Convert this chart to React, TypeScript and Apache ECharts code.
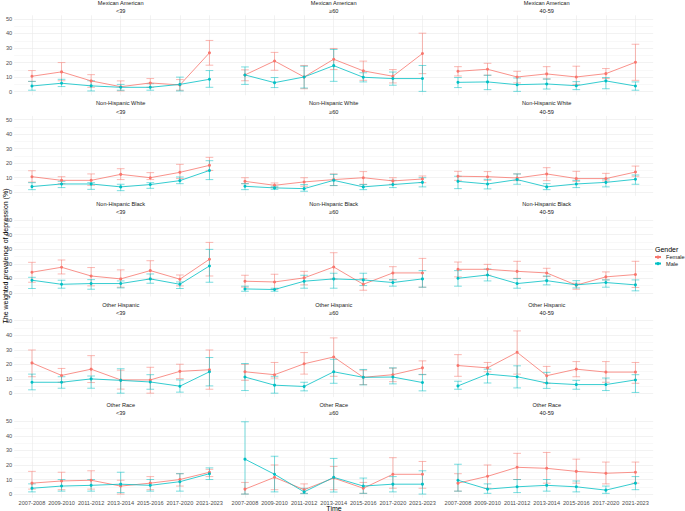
import React, { useEffect, useRef } from "react";
import * as echarts from "echarts";

// ---------- categories ----------
const periods = ["2007-2008", "2009-2010", "2011-2012", "2013-2014", "2015-2016", "2017-2020", "2021-2023"];
const races = ["Mexican American", "Non-Hispanic White", "Non-Hispanic Black", "Other Hispanic", "Other Race"];
const ageGroups = ["<39", "≥60", "40-59"];
const genders = ["Female", "Male"];
const yTickLabels = [0, 10, 20, 30, 40, 50];

// ---------- Mexican American ----------
const MA_u39_F = [10.6, 13.6, 7.4, 3.4, 6.0, 4.6, 26.7];
const MA_u39_F_lo = [7.0, 7.5, 3.0, 0.5, 3.0, 1.0, 18.2];
const MA_u39_F_hi = [14.5, 20.0, 11.7, 7.4, 9.0, 8.3, 35.2];
const MA_u39_M = [3.9, 5.8, 4.0, 3.0, 3.0, 5.0, 8.5];
const MA_u39_M_lo = [1.0, 3.5, 0.5, 1.0, 1.0, 0.5, 3.0];
const MA_u39_M_hi = [7.1, 8.5, 7.5, 5.0, 5.5, 10.0, 14.5];

const MA_o60_F = [11.5, 21.1, 10.1, 22.3, 14.3, 10.6, 26.2];
const MA_o60_F_lo = [7.5, 14.7, 2.0, 15.2, 7.8, 6.0, 12.4];
const MA_o60_F_hi = [15.0, 27.0, 18.0, 29.7, 21.0, 15.2, 40.2];
const MA_o60_M = [11.5, 6.2, 10.1, 17.9, 9.9, 9.0, 9.0];
const MA_o60_M_lo = [5.0, 2.8, 2.5, 7.1, 6.7, 4.4, 0.2];
const MA_o60_M_hi = [17.0, 9.7, 17.5, 29.0, 13.0, 13.5, 18.0];

const MA_m40_F = [14.0, 15.4, 10.1, 12.2, 10.1, 12.4, 20.2];
const MA_m40_F_lo = [10.8, 11.3, 6.0, 8.7, 5.0, 9.0, 7.8];
const MA_m40_F_hi = [17.2, 19.5, 14.0, 17.2, 17.5, 15.9, 32.6];
const MA_m40_M = [6.4, 6.7, 4.8, 5.3, 4.1, 7.4, 3.9];
const MA_m40_M_lo = [2.8, 1.4, 0.2, 1.8, 1.4, 2.0, 1.0];
const MA_m40_M_hi = [9.7, 11.3, 9.4, 8.7, 6.9, 9.7, 6.7];

// ---------- Non-Hispanic White ----------
const NHW_u39_F = [10.7, 8.2, 8.2, 12.3, 10.0, 13.7, 18.5];
const NHW_u39_F_lo = [7.0, 5.9, 4.8, 8.7, 8.7, 9.4, 15.0];
const NHW_u39_F_hi = [14.8, 10.7, 12.6, 16.2, 13.5, 19.2, 24.0];
const NHW_u39_M = [3.9, 5.7, 5.7, 3.7, 5.3, 8.0, 15.0];
const NHW_u39_M_lo = [1.8, 3.2, 2.0, 1.1, 2.7, 5.9, 8.7];
const NHW_u39_M_hi = [6.6, 7.5, 6.6, 5.5, 6.6, 10.5, 21.7];

const NHW_o60_F = [7.5, 4.8, 7.1, 8.7, 10.0, 7.8, 9.1];
const NHW_o60_F_lo = [5.9, 3.2, 4.1, 4.6, 5.5, 5.5, 6.6];
const NHW_o60_F_hi = [10.0, 6.4, 10.0, 12.6, 14.2, 10.0, 11.2];
const NHW_o60_M = [4.1, 3.0, 2.5, 8.2, 3.7, 5.3, 6.8];
const NHW_o60_M_lo = [1.8, 2.0, 0.7, 4.6, 1.8, 3.2, 3.7];
const NHW_o60_M_hi = [5.9, 4.1, 5.3, 12.3, 5.3, 8.2, 10.0];

const NHW_m40_F = [11.0, 10.7, 9.8, 12.6, 9.4, 9.4, 13.9];
const NHW_m40_F_lo = [8.2, 8.2, 8.0, 8.0, 7.5, 7.8, 11.0];
const NHW_m40_F_hi = [14.4, 14.2, 12.6, 16.9, 14.4, 13.0, 18.0];
const NHW_m40_M = [7.5, 5.7, 8.7, 3.7, 5.7, 6.8, 8.9];
const NHW_m40_M_lo = [2.5, 2.3, 5.5, 1.8, 3.2, 3.7, 5.5];
const NHW_m40_M_hi = [11.0, 8.9, 12.6, 5.9, 8.2, 9.1, 11.9];

// ---------- Non-Hispanic Black ----------
const NHB_u39_F = [14.2, 17.6, 11.6, 9.6, 15.3, 9.4, 23.1];
const NHB_u39_F_lo = [7.3, 13.0, 4.8, 3.9, 9.4, 4.8, 11.6];
const NHB_u39_F_hi = [21.0, 22.6, 17.4, 15.8, 22.1, 12.3, 34.7];
const NHB_u39_M = [8.7, 5.9, 6.4, 6.4, 9.6, 5.9, 18.5];
const NHB_u39_M_lo = [3.0, 3.2, 2.5, 3.4, 6.6, 3.0, 7.3];
const NHB_u39_M_hi = [10.7, 8.7, 9.1, 8.2, 13.0, 7.5, 29.9];

const NHB_o60_F = [8.0, 7.5, 10.3, 17.8, 5.9, 13.7, 13.7];
const NHB_o60_F_lo = [3.9, 2.5, 5.5, 9.4, 1.8, 8.9, 3.9];
const NHB_o60_F_hi = [12.1, 12.8, 14.8, 27.6, 9.8, 18.0, 23.7];
const NHB_o60_M = [2.7, 2.3, 8.0, 9.6, 8.9, 7.1, 9.6];
const NHB_o60_M_lo = [1.1, 1.1, 3.2, 3.2, 5.0, 4.6, 3.9];
const NHB_o60_M_hi = [4.6, 3.2, 12.1, 13.5, 13.5, 9.1, 15.3];

const NHB_m40_F = [16.2, 16.2, 14.8, 13.7, 5.3, 11.0, 12.6];
const NHB_m40_F_lo = [11.0, 12.1, 10.0, 11.2, 2.5, 8.9, 3.7];
const NHB_m40_F_hi = [21.2, 19.6, 21.7, 16.9, 6.6, 14.4, 21.7];
const NHB_m40_M = [10.0, 12.3, 6.4, 8.4, 5.5, 7.1, 5.5];
const NHB_m40_M_lo = [4.6, 8.2, 3.2, 5.5, 3.4, 3.9, 1.4];
const NHB_m40_M_hi = [15.3, 16.4, 9.8, 11.6, 8.4, 8.9, 8.9];

// ---------- Other Hispanic ----------
const OH_u39_F = [21.0, 12.4, 16.7, 9.3, 9.3, 15.2, 16.3];
const OH_u39_F_lo = [11.5, 7.7, 7.5, 3.0, 0.2, 10.2, 2.9];
const OH_u39_F_hi = [29.9, 17.2, 26.0, 16.0, 18.0, 20.1, 29.9];
const OH_u39_M = [7.7, 7.7, 10.0, 9.0, 7.9, 5.0, 14.9];
const OH_u39_M_lo = [2.5, 3.6, 3.6, 0.2, 2.9, 0.9, 5.2];
const OH_u39_M_hi = [13.3, 11.5, 12.0, 17.0, 12.9, 9.3, 24.7];

const OH_o60_F = [14.9, 12.9, 20.4, 25.1, 11.1, 12.9, 17.6];
const OH_o60_F_lo = [9.0, 10.6, 13.3, 11.8, 6.1, 8.1, 12.9];
const OH_o60_F_hi = [20.0, 21.3, 28.1, 38.2, 16.0, 17.4, 22.4];
const OH_o60_M = [11.3, 5.7, 4.8, 14.9, 11.1, 11.3, 7.5];
const OH_o60_M_lo = [2.0, 0.2, 1.8, 7.0, 5.9, 6.6, 1.8];
const OH_o60_M_hi = [20.6, 11.8, 7.7, 23.5, 16.5, 17.6, 13.1];

const OH_m40_F = [19.2, 17.6, 28.3, 12.2, 16.7, 14.7, 14.7];
const OH_m40_F_lo = [11.8, 14.9, 13.3, 7.0, 11.5, 7.7, 7.0];
const OH_m40_F_hi = [26.7, 21.3, 43.0, 18.6, 21.9, 21.9, 21.3];
const OH_m40_M = [5.2, 13.3, 11.5, 7.2, 6.1, 6.1, 9.3];
const OH_m40_M_lo = [2.9, 7.2, 3.8, 3.5, 2.9, 2.0, 0.7];
const OH_m40_M_hi = [8.4, 16.7, 19.0, 14.5, 9.0, 10.6, 12.9];

// ---------- Other Race ----------
const OR_u39_F = [7.5, 9.0, 9.5, 5.5, 7.5, 10.0, 15.0];
const OR_u39_F_lo = [3.4, 3.0, 3.4, 0.0, 3.0, 5.5, 12.0];
const OR_u39_F_hi = [15.6, 15.0, 16.0, 9.5, 12.0, 14.0, 17.0];
const OR_u39_M = [4.0, 5.5, 6.0, 6.8, 6.0, 8.5, 14.0];
const OR_u39_M_lo = [1.5, 2.0, 2.0, 1.0, 2.0, 2.0, 10.0];
const OR_u39_M_hi = [7.0, 10.0, 10.0, 15.0, 10.0, 14.0, 18.0];

const OR_o60_F = [3.4, 11.5, 3.0, 11.0, 4.0, 13.6, 13.6];
const OR_o60_F_lo = [0.0, 3.0, 0.5, 3.0, 0.5, 4.0, 4.0];
const OR_o60_F_hi = [8.0, 20.0, 7.0, 19.0, 8.0, 25.0, 22.4];
const OR_o60_M = [24.0, 13.6, 1.5, 11.5, 5.5, 6.8, 6.8];
const OR_o60_M_lo = [0.0, 1.5, 0.3, 1.4, 0.5, 1.5, 0.0];
const OR_o60_M_hi = [49.7, 26.0, 4.0, 24.5, 11.0, 12.0, 16.0];

const OR_m40_F = [7.5, 12.2, 18.4, 17.7, 15.6, 14.3, 15.0];
const OR_m40_F_lo = [2.0, 4.0, 10.0, 7.5, 7.5, 7.0, 7.5];
const OR_m40_F_hi = [14.0, 20.0, 28.0, 28.6, 24.0, 22.0, 22.0];
const OR_m40_M = [9.5, 3.4, 5.0, 6.0, 5.0, 2.7, 7.5];
const OR_m40_M_lo = [2.0, 0.5, 1.0, 2.0, 1.5, 0.5, 3.0];
const OR_m40_M_hi = [20.5, 7.0, 10.0, 10.0, 9.0, 5.5, 12.0];

// rows = races, cols = age groups; each: [F, F_lo, F_hi, M, M_lo, M_hi]
const panelData = [
  [
    [MA_u39_F, MA_u39_F_lo, MA_u39_F_hi, MA_u39_M, MA_u39_M_lo, MA_u39_M_hi],
    [MA_o60_F, MA_o60_F_lo, MA_o60_F_hi, MA_o60_M, MA_o60_M_lo, MA_o60_M_hi],
    [MA_m40_F, MA_m40_F_lo, MA_m40_F_hi, MA_m40_M, MA_m40_M_lo, MA_m40_M_hi],
  ],
  [
    [NHW_u39_F, NHW_u39_F_lo, NHW_u39_F_hi, NHW_u39_M, NHW_u39_M_lo, NHW_u39_M_hi],
    [NHW_o60_F, NHW_o60_F_lo, NHW_o60_F_hi, NHW_o60_M, NHW_o60_M_lo, NHW_o60_M_hi],
    [NHW_m40_F, NHW_m40_F_lo, NHW_m40_F_hi, NHW_m40_M, NHW_m40_M_lo, NHW_m40_M_hi],
  ],
  [
    [NHB_u39_F, NHB_u39_F_lo, NHB_u39_F_hi, NHB_u39_M, NHB_u39_M_lo, NHB_u39_M_hi],
    [NHB_o60_F, NHB_o60_F_lo, NHB_o60_F_hi, NHB_o60_M, NHB_o60_M_lo, NHB_o60_M_hi],
    [NHB_m40_F, NHB_m40_F_lo, NHB_m40_F_hi, NHB_m40_M, NHB_m40_M_lo, NHB_m40_M_hi],
  ],
  [
    [OH_u39_F, OH_u39_F_lo, OH_u39_F_hi, OH_u39_M, OH_u39_M_lo, OH_u39_M_hi],
    [OH_o60_F, OH_o60_F_lo, OH_o60_F_hi, OH_o60_M, OH_o60_M_lo, OH_o60_M_hi],
    [OH_m40_F, OH_m40_F_lo, OH_m40_F_hi, OH_m40_M, OH_m40_M_lo, OH_m40_M_hi],
  ],
  [
    [OR_u39_F, OR_u39_F_lo, OR_u39_F_hi, OR_u39_M, OR_u39_M_lo, OR_u39_M_hi],
    [OR_o60_F, OR_o60_F_lo, OR_o60_F_hi, OR_o60_M, OR_o60_M_lo, OR_o60_M_hi],
    [OR_m40_F, OR_m40_F_lo, OR_m40_F_hi, OR_m40_M, OR_m40_M_lo, OR_m40_M_hi],
  ],
];

// ---------- styling / layout ----------
const COLORS = ["#F8766D", "#00BFC4"];
const FONT = "Liberation Sans, Arial, Helvetica, sans-serif";
const COL_LEFT = [14.2, 227.2, 440.2];
const PANEL_W = 213;
const ROW_TOP0 = 15.3;
const ROW_PITCH = 100.6;
const PANEL_H = 80;
const T = "rgba(0,0,0,0)";
const GRID_MAJOR = "#E9E9E9";
const GRID_MINOR = "#F3F3F3";
const CAP_HALF = 0.13;

const xFmt = (v: number) => {
  const k = Math.round(v);
  return Math.abs(v - k) < 1e-6 && k >= 1 && k <= periods.length ? periods[k - 1] : "";
};
const yFmt = (v: number) => {
  const k = Math.round(v);
  return Math.abs(v - k) < 1e-6 && yTickLabels.includes(k) ? String(k) : "";
};

const errRender = (color: string) => (params: any, api: any) => {
  const x = api.value(0);
  const lo = api.value(1);
  const hi = api.value(2);
  const pLo = api.coord([x, lo]);
  const pHi = api.coord([x, hi]);
  const hw = api.size([CAP_HALF, 0])[0];
  const style = { stroke: color, lineWidth: 0.7, opacity: 0.75 };
  return {
    type: "group",
    children: [
      { type: "line", shape: { x1: pLo[0], y1: pLo[1], x2: pHi[0], y2: pHi[1] }, style },
      { type: "line", shape: { x1: pLo[0] - hw, y1: pLo[1], x2: pLo[0] + hw, y2: pLo[1] }, style },
      { type: "line", shape: { x1: pHi[0] - hw, y1: pHi[1], x2: pHi[0] + hw, y2: pHi[1] }, style },
    ],
  };
};

function buildOption() {
  const grid: any[] = [];
  const xAxis: any[] = [];
  const yAxis: any[] = [];
  const series: any[] = [];
  const graphic: any[] = [];

  races.forEach((race, r) => {
    ageGroups.forEach((age, c) => {
      const idx = r * ageGroups.length + c;
      const left = COL_LEFT[c];
      const top = ROW_TOP0 + r * ROW_PITCH;
      grid.push({ left, top, width: PANEL_W, height: PANEL_H, containLabel: false });
      xAxis.push({
        type: "value",
        gridIndex: idx,
        min: 0.4,
        max: 7.6,
        interval: 0.2,
        axisLine: { show: false },
        axisTick: { show: false },
        splitLine: { show: true, lineStyle: { color: [T, T, T, GRID_MAJOR, T], width: 0.6 } },
        axisLabel: {
          show: r === races.length - 1,
          formatter: xFmt,
          fontSize: 5.6,
          color: "#4D4D4D",
          margin: 2.5,
          fontFamily: FONT,
        },
      });
      yAxis.push({
        type: "value",
        gridIndex: idx,
        min: -2.5,
        max: 52.5,
        interval: 2.5,
        axisLine: { show: false },
        axisTick: { show: false },
        splitLine: { show: true, lineStyle: { color: [T, GRID_MAJOR, T, GRID_MINOR], width: 0.6 } },
        axisLabel: {
          show: c === 0,
          formatter: yFmt,
          fontSize: 5.6,
          color: "#4D4D4D",
          margin: 2,
          fontFamily: FONT,
        },
      });

      const pd = panelData[r][c];
      genders.forEach((g, gi) => {
        const lo = pd[gi * 3 + 1];
        const hi = pd[gi * 3 + 2];
        series.push({
          type: "custom",
          name: g + " CI",
          xAxisIndex: idx,
          yAxisIndex: idx,
          silent: true,
          z: 2,
          encode: { x: 0, y: [1, 2] },
          data: periods.map((_, i) => [i + 1, lo[i], hi[i]]),
          renderItem: errRender(COLORS[gi]),
        });
      });
      genders.forEach((g, gi) => {
        const v = pd[gi * 3];
        series.push({
          type: "line",
          name: g,
          xAxisIndex: idx,
          yAxisIndex: idx,
          silent: true,
          z: 3,
          symbol: "circle",
          symbolSize: 3,
          showSymbol: true,
          color: COLORS[gi],
          itemStyle: { color: COLORS[gi] },
          lineStyle: { color: COLORS[gi], width: 0.8 },
          data: periods.map((_, i) => [i + 1, v[i]]),
        });
      });

      const cx = left + PANEL_W / 2;
      graphic.push({
        type: "text",
        x: cx,
        y: top - 12.6,
        style: { text: race, fontSize: 5.6, fill: "#1A1A1A", textAlign: "center", textVerticalAlign: "middle", fontFamily: FONT },
      });
      graphic.push({
        type: "text",
        x: cx,
        y: top - 4.4,
        style: { text: age, fontSize: 5.6, fill: "#1A1A1A", textAlign: "center", textVerticalAlign: "middle", fontFamily: FONT },
      });
    });
  });

  graphic.push({
    type: "text",
    x: 5,
    y: 256,
    rotation: Math.PI / 2,
    style: {
      text: "The weighted prevalence of depression (%)",
      fontSize: 7,
      fill: "#000000",
      textAlign: "center",
      textVerticalAlign: "middle",
      fontFamily: FONT,
    },
  });
  graphic.push({
    type: "text",
    x: 334,
    y: 508.5,
    style: { text: "Time", fontSize: 7, fill: "#000000", textAlign: "center", textVerticalAlign: "middle", fontFamily: FONT },
  });
  graphic.push({
    type: "text",
    x: 655,
    y: 249.5,
    style: { text: "Gender", fontSize: 7, fill: "#000000", textAlign: "left", textVerticalAlign: "middle", fontFamily: FONT },
  });

  return {
    animation: false,
    backgroundColor: "#FFFFFF",
    grid,
    xAxis,
    yAxis,
    series,
    graphic,
    legend: {
      data: genders,
      orient: "vertical",
      left: 654,
      top: 253.8,
      padding: 0,
      itemWidth: 6,
      itemHeight: 4,
      itemGap: 0,
      selectedMode: false,
      textStyle: {
        fontSize: 5.6,
        lineHeight: 6.5,
        color: "#1A1A1A",
        fontFamily: FONT,
        width: 24,
        overflow: "none",
      },
    },
  };
}

export default function App() {
  const ref = useRef<HTMLDivElement>(null);
  useEffect(() => {
    if (!ref.current) return;
    const chart = echarts.init(ref.current, undefined, { renderer: "svg" });
    chart.setOption(buildOption() as any);
    return () => chart.dispose();
  }, []);
  return (
    <div
      ref={ref}
      style={{ position: "fixed", left: 0, top: 0, width: 685, height: 511, background: "#FFFFFF" }}
    />
  );
}
